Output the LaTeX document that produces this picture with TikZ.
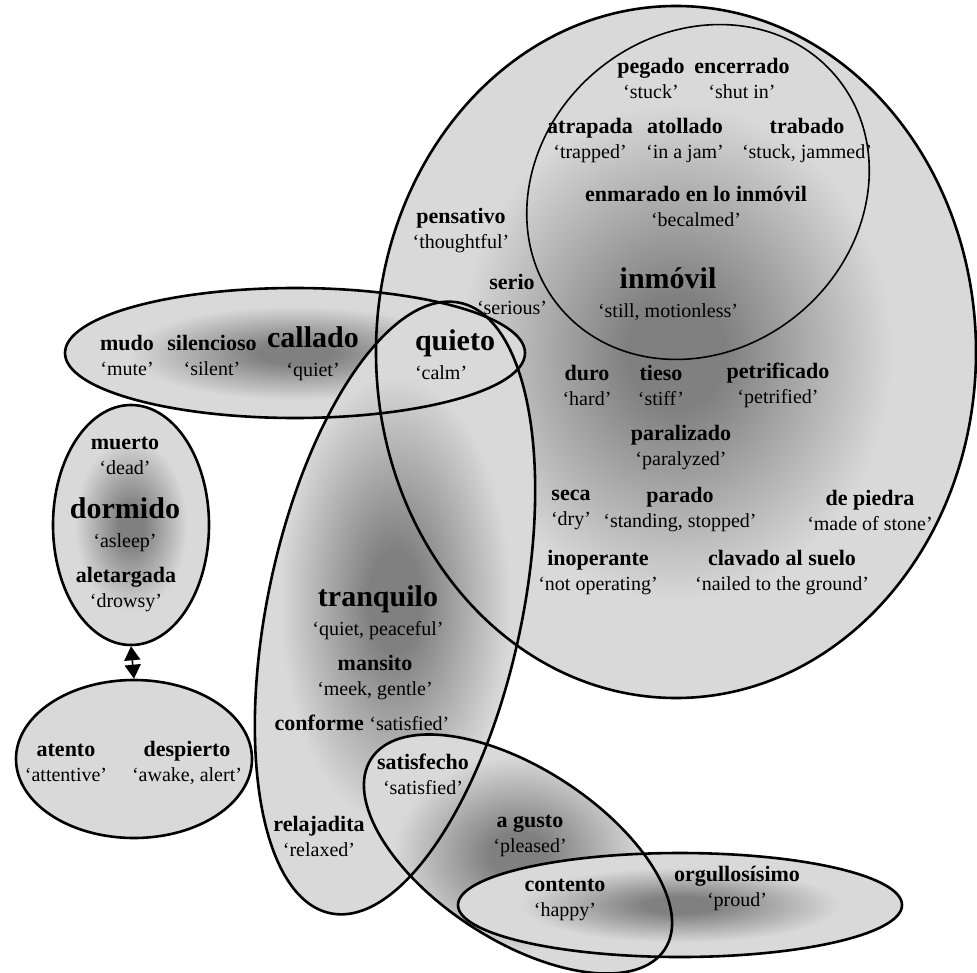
\documentclass[tikz,border=0pt]{standalone}
\usepackage{fontspec}
\setmainfont{Liberation Serif}
\usetikzlibrary{shapes.geometric,arrows.meta}

\definecolor{setdark}{gray}{0.5}
\definecolor{setlight}{gray}{0.85}
\pgfdeclareradialshading{setshade}{\pgfpoint{0bp}{0bp}}{color(0bp)=(setdark); color(4bp)=(setdark); color(18bp)=(setlight); color(50bp)=(setlight)}
\pgfdeclareradialshading{flatshade}{\pgfpoint{0bp}{0bp}}{color(0bp)=(setlight); color(50bp)=(setlight)}

\newcommand{\gl}[1]{{\mdseries\fontsize{10}{12.5}\selectfont #1}}

\tikzset{
  wordset/.style={ellipse, inner sep=0pt, line width=1.3pt},
  lex/.style={align=center, inner sep=0pt, font=\fontsize{11}{12.5}\selectfont\bfseries},
  lexbig/.style={align=center, inner sep=0pt, font=\fontsize{15}{14.5}\selectfont\bfseries},
}

\begin{document}
\begin{tikzpicture}[x=0.5pt, y=-0.5pt]
  \useasboundingbox[fill=white] (0,0) rectangle (977,972);

  % name/x/y/half axes/angle/shading
  \def\wordsets{stone/676/352/300/346/0/setshade,
    calm/295/353/230/65/0/setshade,
    peace/395/608/312/127/78/setshade,
    pleased/518/854/175/86/-33/setshade,
    proud/680/905/222/52/0/setshade,
    sleep/131/525/78/120/0/setshade,
    awake/134/759/118/79/0/flatshade}

  \foreach \n/\x/\y/\rx/\ry/\a/\s in \wordsets
    \node[wordset, shading=\s, minimum width=\rx pt, minimum height=\ry pt, rotate=\a] (\n-fill) at (\x,\y) {};
  \foreach \n/\x/\y/\rx/\ry/\a/\s in \wordsets
    \node[wordset, draw, minimum width=\rx pt, minimum height=\ry pt, rotate=\a] (\n) at (\x,\y) {};
  \node[wordset, draw, line width=0.8pt, minimum width=180pt, minimum height=158pt, rotate=40] (stuck) at (698,192) {};

  \draw[{Triangle[width=8pt,length=7pt]}-{Triangle[width=8pt,length=7pt]}, line width=0.8pt] (sleep.south) -- (awake.north);

  \node[lex] (pegado) at (651,78) {pegado\\\gl{‘stuck’}};
  \node[lex] (encerrado) at (742,78) {encerrado\\\gl{‘shut in’}};
  \node[lex] (atrapada) at (590,141) {atrapada\\\gl{‘trapped’}};
  \node[lex] (atollado) at (685,141) {atollado\\\gl{‘in a jam’}};
  \node[lex] (trabado) at (807,141) {trabado\\\gl{‘stuck, jammed’}};
  \node[lex] (enmarado) at (696,206) {enmarado en lo inmóvil\\\gl{‘becalmed’}};
  \node[lex] (pensativo) at (461,231) {pensativo\\\gl{‘thoughtful’}};
  \node[lex] (serio) at (512,294) {serio\\\gl{‘serious’}};
  \node[lexbig] (inmovil) at (668,294) {inmóvil\\\gl{‘still, motionless’}};
  \node[lexbig, align=left] (quieto) at (455,355) {quieto\\\gl{‘calm’}};

  \node[lex] (mudo) at (127,355) {mudo\\\gl{‘mute’}};
  \node[lex] (silencioso) at (212,355) {silencioso\\\gl{‘silent’}};
  \node[lexbig] (callado) at (313,354) {callado\\\gl{‘quiet’}};

  \node[lex] (duro) at (587,385) {duro\\\gl{‘hard’}};
  \node[lex] (tieso) at (661,385) {tieso\\\gl{‘stiff’}};
  \node[lex] (petrificado) at (778,385) {petrificado\\\gl{‘petrified’}};
  \node[lex] (paralizado) at (681,448) {paralizado\\\gl{‘paralyzed’}};
  \node[lex] (seca) at (571,510) {seca\\\gl{‘dry’}};
  \node[lex] (parado) at (680,510) {parado\\\gl{‘standing, stopped’}};
  \node[lex] (piedra) at (870,510) {de piedra\\\gl{‘made of stone’}};
  \node[lex] (inoperante) at (598,573) {inoperante\\\gl{‘not operating’}};
  \node[lex] (clavado) at (782,573) {clavado al suelo\\\gl{‘nailed to the ground’}};

  \node[lex] (muerto) at (125,456) {muerto\\\gl{‘dead’}};
  \node[lexbig] (dormido) at (125,525) {dormido\\\gl{‘asleep’}};
  \node[lex] (aletargada) at (126,590) {aletargada\\\gl{‘drowsy’}};
  \node[lex] (atento) at (66,763) {atento\\\gl{‘attentive’}};
  \node[lex] (despierto) at (187,763) {despierto\\\gl{‘awake, alert’}};

  \node[lexbig] (tranquilo) at (378,613) {tranquilo\\\gl{‘quiet, peaceful’}};
  \node[lex] (mansito) at (375,678) {mansito\\\gl{‘meek, gentle’}};
  \node[lex] (conforme) at (362,723) {conforme \gl{‘satisfied’}};
  \node[lex] (satisfecho) at (423,774) {satisfecho\\\gl{‘satisfied’}};
  \node[lex] (relajadita) at (319,836) {relajadita\\\gl{‘relaxed’}};
  \node[lex] (agusto) at (530,836) {a gusto\\\gl{‘pleased’}};
  \node[lex] (contento) at (565,900) {contento\\\gl{‘happy’}};
  \node[lex] (orgullo) at (737,888) {orgullosísimo\\\gl{‘proud’}};
\end{tikzpicture}
\end{document}
